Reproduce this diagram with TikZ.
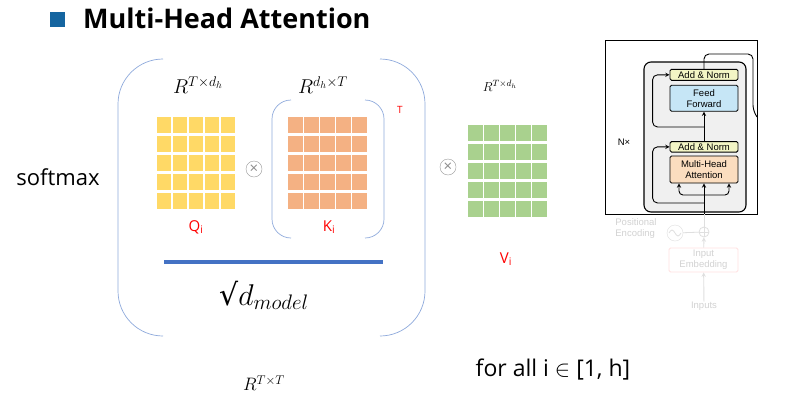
\RequirePackage{fix-cm}
\documentclass[tikz,border=0pt]{standalone}
\usepackage{fontspec}
\setmainfont{Open Sans}
\newfontfamily\helv{Liberation Sans}
\newfontfamily\dejavu{DejaVu Sans}
\usetikzlibrary{positioning, calc}
\definecolor{amarillo}{RGB}{255,217,102}
\definecolor{naranja}{RGB}{244,177,131}
\definecolor{verde}{RGB}{169,209,142}
\definecolor{llavec}{RGB}{143,170,220}
\definecolor{barrac}{RGB}{68,114,196}
\definecolor{azul}{RGB}{21,101,160}
\definecolor{normc}{RGB}{243,245,197}
\definecolor{ffnc}{RGB}{198,230,246}
\definecolor{mhac}{RGB}{251,221,191}
\definecolor{fondo}{RGB}{240,240,240}
\begin{document}
\begin{tikzpicture}[x=1pt, y=-1pt,
        matriz/.style={minimum width=78.6pt, minimum height=91.5pt, inner sep=0pt, outer sep=0pt},
        etiq/.style={text=red, font=\fontsize{15}{17}\selectfont, inner sep=0pt, anchor=base},
        dimen/.style={font=\fontsize{20}{22}\selectfont, inner sep=0pt},
        producto/.style={draw=gray!80, circle, minimum size=16pt, inner sep=0pt, text=gray!90, font=\fontsize{15}{15}\selectfont},
        llave/.style={draw=llavec, line width=0.7pt, rounded corners=#1},
        capa/.style={draw, line width=0.9pt, rounded corners=1.5pt, minimum width=68pt, align=center, font=\helv\fontsize{9.5}{11}\selectfont, inner sep=0.5pt},
        flecha/.style={->, >=stealth, line width=0.9pt},
        tenue/.style={text=gray!35, font=\helv\fontsize{9.5}{11}\selectfont, inner sep=0pt},
        gris/.style={->, >=stealth, draw=gray!25, line width=0.9pt}
    ]
    \useasboundingbox[fill=white] (0,0) rectangle (800,405);

    % title
    \node (cuadro) [fill=azul, minimum size=15pt, inner sep=0pt] at (57,19.5) {};
    \node (titulo) [anchor=base west, inner sep=0pt, font=\bfseries\fontsize{27}{30}\selectfont] at (83,28) {Multi-Head Attention};

    \node (softmax) [anchor=base, inner sep=0pt, font=\fontsize{22}{26}\selectfont] at (58,185) {softmax};

    % matrices
    \node (qmat) [matriz] at (196,163) {};
    \node (kmat) [matriz] at (327.5,163) {};
    \node (vmat) [matriz] at (507.5,171) {};
    \foreach \m/\col in {qmat/amarillo, kmat/naranja, vmat/verde} {
        \foreach \r in {0,...,4}
            \foreach \c in {0,...,4}
                \fill[\col] ($(\m.north west)+(\c*16,\r*19)$) rectangle +(14.6,15.5);
    }

    \node (qi) [etiq] at (196,231) {Q\textsubscript{i}};
    \node (ki) [etiq] at (329,231) {K\textsubscript{i}};
    \node (vi) [etiq] at (506,263) {V\textsubscript{i}};
    \node (trasp) [text=red, font=\fontsize{10}{10}\selectfont] at (400,110) {T};

    \node (prod1) [producto] at (254,169) {×};
    \node (prod2) [producto] at (448,167) {×};

    \node (rq) [dimen] at (198,85) {$R^{T\times d_h}$};
    \node (rk) [dimen] at (323,85) {$R^{d_h\times T}$};
    \node (rv) [dimen, font=\fontsize{13}{14}\selectfont] at (500,86) {$R^{T\times d_h}$};
    \node (rtt) [dimen, font=\fontsize{18}{20}\selectfont] at (264,383) {$R^{T\times T}$};

    % brackets and fraction
    \draw[llave=45pt] (163,59) -| (118,336) -- (163,336);
    \draw[llave=45pt] (380,59) -| (425,336) -- (380,336);
    \draw[llave=19pt] (291,100) -| (272,238) -- (291,238);
    \draw[llave=19pt] (365,100) -| (384,238) -- (365,238);
    \draw[barrac, line width=4pt] (164,262) -- (383,262);
    \node (raiz) [anchor=base, inner sep=0pt, font=\fontsize{30}{32}\selectfont] at (264,305) {{\dejavu √}$d_{model}$};

    \node (paratodo) [anchor=base, inner sep=0pt, font=\fontsize{23}{27}\selectfont] at (553,376) {for all i $\in$ [1, h]};

    % encoder
    \node (bloque) [draw, line width=1.1pt, fill=fondo, rounded corners=7pt, minimum width=102pt, minimum height=150pt] at (695,137) {};
    \node (marco) [draw, line width=0.6pt, minimum width=152pt, minimum height=174pt, inner sep=0pt] at (681,127) {};
    \node (mha) [capa, fill=mhac, minimum height=27pt] at (704,169.5) {Multi-Head\\Attention};
    \node (norma1) [capa, fill=normc, minimum height=10.5pt, above=3pt of mha] {Add \& Norm};
    \node (ffn) [capa, fill=ffnc, minimum height=26pt, above=29.5pt of norma1] {Feed\\Forward};
    \node (norma2) [capa, fill=normc, minimum height=11pt, above=4pt of ffn] {Add \& Norm};
    \node (nx) [font=\helv\fontsize{9.5}{11}\selectfont] at (624,142) {N×};

    \node (posenc) [tenue, align=left] at (636,229) {Positional\\Encoding};
    \node (seno) [draw=gray!25, circle, minimum size=16pt, inner sep=0pt] at (675,233) {};
    \draw[gray!25, line width=0.8pt] ([xshift=-6pt]seno.center) sin ([xshift=-3pt,yshift=3pt]seno.center) cos (seno.center) sin ([xshift=3pt,yshift=-3pt]seno.center) cos ([xshift=6pt]seno.center);
    \node (suma) [draw=gray!25, circle, minimum size=10pt, inner sep=0pt, line width=0.8pt] at (704,232) {};
    \draw[gray!25, line width=0.8pt] (suma.north) -- (suma.south) (suma.west) -- (suma.east);
    \node (embed) [tenue, draw=red!12, rounded corners=1.5pt, line width=0.9pt, minimum width=69pt, minimum height=24pt, align=center] at (703.5,260) {Input\\Embedding};
    \node (inputs) [tenue] at (704,306) {Inputs};
    \draw[gris] (inputs) -- (embed);
    \draw[gris] (embed) -- (suma);
    \draw[gray!25, line width=0.8pt] (seno) -- (suma);
    \coordinate (entrada) at (704,214);
    \draw[gray!25, line width=0.9pt] (suma) -- (entrada);

    \draw[flecha] (entrada) -- (mha.south);
    \coordinate (rama) at (704,195);
    \draw[flecha, rounded corners=4pt] (rama) -| ([xshift=-25pt]mha.south);
    \draw[flecha, rounded corners=4pt] (rama) -| ([xshift=25pt]mha.south);
    \coordinate (res1) at (704,203);
    \draw[flecha, rounded corners=5pt] (res1) -| ([xshift=-17pt]norma1.west) -- (norma1.west);
    \draw[flecha] (norma1) -- (ffn);
    \coordinate (res2) at (704,127);
    \draw[flecha, rounded corners=5pt] (res2) -| ([xshift=-17pt]norma2.west) -- (norma2.west);
    \coordinate (salida) at (757,117);
    \draw[line width=0.9pt, rounded corners=5pt] (norma2.north) |- (753,54) -- (753,110) -- (salida);
\end{tikzpicture}
\end{document}
